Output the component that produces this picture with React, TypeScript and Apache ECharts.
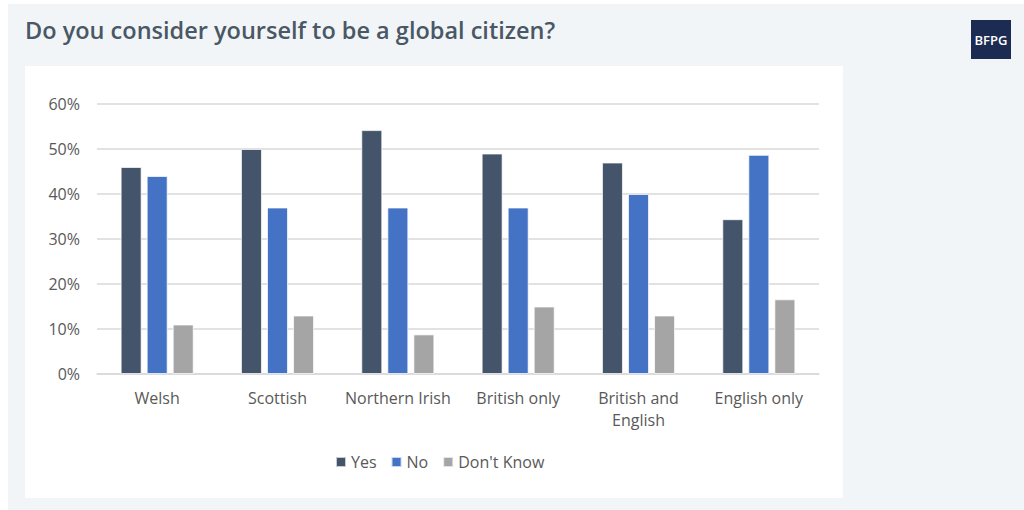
import React, { useEffect, useRef } from "react";
import * as echarts from "echarts";

const categories = ["Welsh", "Scottish", "Northern Irish", "British only", "British and\nEnglish", "English only"];
const yesValues = [46, 50, 54.2, 49, 47, 34.4];
const noValues = [44, 37, 37, 37, 40, 48.7];
const dontKnowValues = [11, 13, 8.8, 15, 13, 16.6];
const seriesNames = ["Yes", "No", "Don't Know"];
const yTicks = [0, 10, 20, 30, 40, 50, 60];

const FONT = "'Open Sans', 'Noto Sans', sans-serif";

export default function App() {
  const ref = useRef<HTMLDivElement>(null);
  useEffect(() => {
    document.body.style.margin = "0";
    const chart = echarts.init(ref.current!, null, { renderer: "svg" });
    const barStyle = (color: string) => ({
      color,
      borderColor: "rgba(255,255,255,0.7)",
      borderWidth: 1,
    });
    chart.setOption({
      animation: false,
      backgroundColor: "#ffffff",
      textStyle: { fontFamily: FONT },
      graphic: [
        { type: "rect", shape: { x: 8, y: 4, width: 1016, height: 506 }, style: { fill: "#f1f5f8" }, z: -10 },
        { type: "rect", shape: { x: 25, y: 66, width: 818, height: 432 }, style: { fill: "#ffffff" }, z: -9 },
        { type: "rect", shape: { x: 971, y: 20, width: 40, height: 39 }, style: { fill: "#1b2b52" }, z: 5 },
        {
          type: "text",
          x: 991,
          y: 40,
          style: { text: "BFPG", fill: "#ffffff", font: `600 13px ${FONT}`, align: "center", verticalAlign: "middle" },
          z: 6,
        },
        {
          type: "text",
          x: 25,
          y: 30,
          style: { text: "Do you consider yourself to be a global citizen?", fill: "#4a5764", font: `600 23.5px ${FONT}`, verticalAlign: "middle" },
          z: 6,
        },
      ],
      legend: {
        data: seriesNames,
        left: 330,
        top: 449,
        itemWidth: 10,
        itemHeight: 10,
        itemGap: 14,
        icon: "rect",
        textStyle: { color: "#595959", fontSize: 16, fontFamily: FONT },
      },
      grid: { left: 97, right: 205, top: 104, bottom: 136 },
      xAxis: {
        type: "category",
        data: categories,
        axisLine: { lineStyle: { color: "#d9d9d9", width: 1.5 } },
        axisTick: { show: false },
        axisLabel: { color: "#595959", fontSize: 16, margin: 13, lineHeight: 22, interval: 0, fontFamily: FONT },
      },
      yAxis: {
        type: "value",
        min: 0,
        max: 60,
        interval: 10,
        axisLabel: {
          color: "#595959",
          fontSize: 16,
          margin: 17,
          fontFamily: FONT,
          formatter: (v: number) => (yTicks.includes(v) ? `${v}%` : ""),
        },
        splitLine: { lineStyle: { color: "#d9d9d9", width: 1.5 } },
        axisLine: { show: false },
        axisTick: { show: false },
      },
      series: [
        { name: seriesNames[0], type: "bar", data: yesValues, barWidth: 21, barGap: "24%", itemStyle: barStyle("#44546a") },
        { name: seriesNames[1], type: "bar", data: noValues, barWidth: 21, barGap: "24%", itemStyle: barStyle("#4472c4") },
        { name: seriesNames[2], type: "bar", data: dontKnowValues, barWidth: 21, barGap: "24%", itemStyle: barStyle("#a5a5a5") },
      ],
    });
    return () => chart.dispose();
  }, []);
  return <div ref={ref} style={{ width: 1024, height: 510 }} />;
}
